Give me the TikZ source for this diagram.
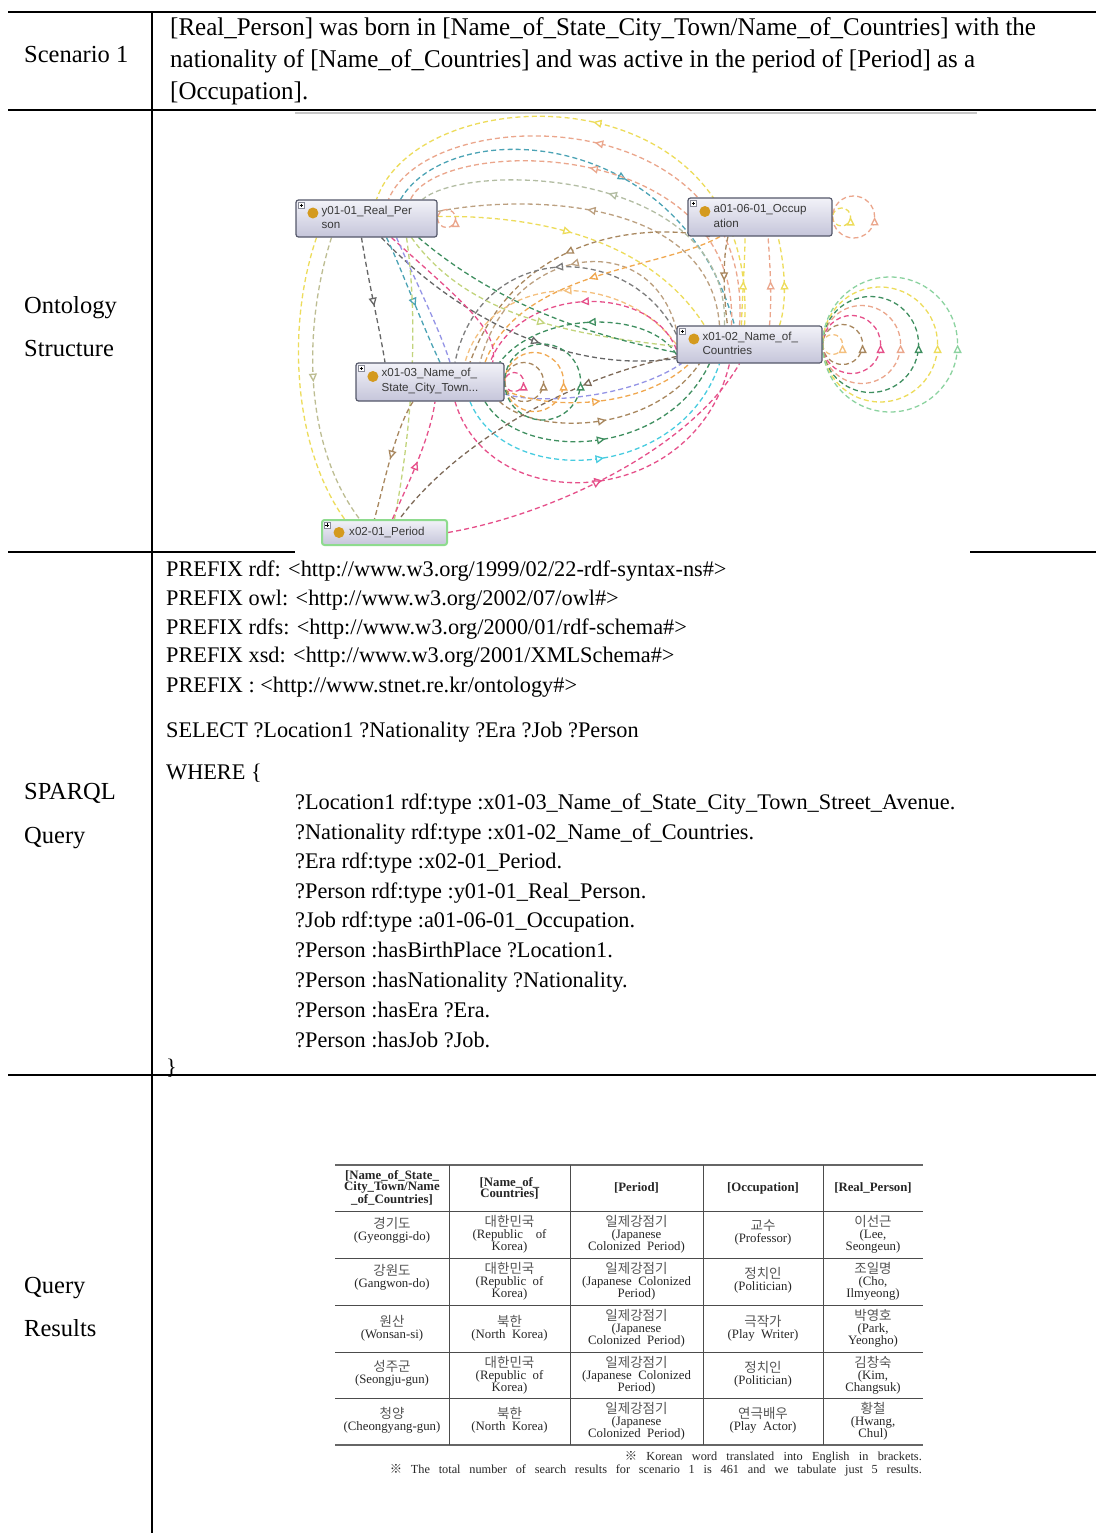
\documentclass[tikz,border=0pt]{standalone}
\usepackage{fontspec}
\setmainfont{Liberation Serif}
\newfontfamily\condserif{Liberation Serif}[FakeStretch=0.98]
\newfontfamily\graphsans{Liberation Sans}
\newfontfamily\kr{Noto Sans CJK KR}
\usetikzlibrary{arrows.meta,decorations.markings,calc}

\definecolor{cYel}{HTML}{EDDC5A}
\definecolor{cSal}{HTML}{EBA68C}
\definecolor{cTeal}{HTML}{4BA3B5}
\definecolor{cGG}{HTML}{B3BDA3}
\definecolor{cBrn}{HTML}{A8875E}
\definecolor{cBrnL}{HTML}{BCA080}
\definecolor{cBrnD}{HTML}{7E6A58}
\definecolor{cGray}{HTML}{7C7C7C}
\definecolor{cOrg}{HTML}{F0A850}
\definecolor{cOrgL}{HTML}{F4C07E}
\definecolor{cPink}{HTML}{E6508A}
\definecolor{cGrn}{HTML}{3F8F60}
\definecolor{cGrnL}{HTML}{8CD3A0}
\definecolor{cCyan}{HTML}{48CCE0}
\definecolor{cLav}{HTML}{9494E6}
\definecolor{cOlive}{HTML}{BDBD92}
\definecolor{cYG}{HTML}{C2D47C}
\definecolor{cDark}{HTML}{666666}
\definecolor{boxtop}{HTML}{F2F2F8}
\definecolor{boxbot}{HTML}{C5C5DA}
\definecolor{boxedge}{HTML}{55586A}
\definecolor{dotc}{HTML}{D49A1E}
\definecolor{pegreen}{HTML}{8EDB8E}
\definecolor{kgray}{HTML}{555555}

\newcommand{\kword}[1]{{\kr\fontsize{13.5}{12.5}\selectfont\color{kgray}#1}}

\pgfdeclarelayer{paper}
\pgfdeclarelayer{links}
\pgfsetlayers{paper,links,main}

\tikzset{
  rowrule/.style={line width=2.2pt, black},
  colrule/.style={line width=1.4pt, black},
  lnk/.style={draw=#1, line width=1.3pt, dash pattern=on 5pt off 3.2pt},
  tri/.style={postaction={decorate,decoration={markings,
      mark=at position #1 with {\arrow{Triangle[length=8.5pt,width=8pt,fill=white]}}}}},
  tri/.default=0.5,
  obox/.style={draw=boxedge, line width=1.2pt, rounded corners=2.5pt,
      top color=boxtop, bottom color=boxbot, inner sep=0pt},
  olbl/.style={anchor=west, inner sep=0pt, align=left, text=black!78,
      font=\graphsans\fontsize{11.6}{14.5}\selectfont},
  sidelbl/.style={anchor=base west, inner sep=0pt, font=\fontsize{24.5}{29}\selectfont},
  scen/.style={anchor=base west, inner sep=0pt, font=\condserif\fontsize{25.5}{32}\selectfont},
  qline/.style={anchor=base west, inner sep=0pt, font=\fontsize{22.3}{26}\selectfont},
  cell/.style={align=center, inner sep=0pt, text=black!85, font=\fontsize{12.8}{12}\selectfont},
  hcell/.style={cell, font=\bfseries\fontsize{12.8}{11.2}\selectfont},
  tline/.style={line width=0.9pt, black!70},
  note/.style={anchor=base east, inner sep=0pt, text=black!85, font=\fontsize{12.3}{14}\selectfont},
}

\begin{document}
\begin{tikzpicture}[x=1pt,y=-1pt]
\useasboundingbox (0,0) rectangle (1096,1533);
\begin{pgfonlayer}{paper}
  \fill[white] (0,0) rectangle (1096,1533);
\end{pgfonlayer}

% ---------- frame of the table ----------
\draw[rowrule] (8,12) -- (1096,12);
\draw[rowrule, line width=2.6pt] (8,110) -- (1096,110);
\draw[rowrule] (8,552) -- (295,552);
\draw[rowrule] (970,552) -- (1096,552);
\draw[rowrule, line width=2.6pt] (8,1075) -- (1096,1075);
\draw[colrule] (152,12) -- (152,1533);
\draw[black!22, line width=1.5pt] (295,113) -- (977,113);

% ---------- row 1: scenario ----------
\node[sidelbl] (sc) at (24,63) {Scenario 1};
\node[scen] (sc1) at (170,36) {[Real\_Person] was born in [Name\_of\_State\_City\_Town/Name\_of\_Countries] with the};
\node[scen] (sc2) at (170,68) {nationality of [Name\_of\_Countries] and was active in the period of [Period] as a};
\node[scen] (sc3) at (170,100) {[Occupation].};

% ---------- row 2: ontology graph ----------
\node[sidelbl] (os1) at (24,313) {Ontology};
\node[sidelbl] (os2) at (24,356) {Structure};

\node[obox, minimum width=141pt, minimum height=37pt] (rp) at (366.5,218.5) {};
\node[obox, minimum width=144pt, minimum height=38pt] (oc) at (760,217) {};
\node[obox, minimum width=145pt, minimum height=37pt] (co) at (749.5,344.5) {};
\node[obox, minimum width=148pt, minimum height=38pt] (st) at (430,382) {};
\node[obox, draw=pegreen, line width=2pt, minimum width=125pt, minimum height=25pt] (pe) at (384.5,532.5) {};

\begin{pgfonlayer}{links}
% arches over the top between countries, occupation and person
\draw[lnk=cYel, tri=0.53] ($(co.north)+(-5,0)$) .. controls (760,70) and (420,75) .. ($(rp.north)+(10,0)$);
\draw[lnk=cSal, tri=0.53] ($(co.north)+(-10,0)$) .. controls (755,100) and (430,100) .. ($(rp.north)+(22,0)$);
\draw[lnk=cTeal, tri=0.57] ($(rp.north)+(34,0)$) .. controls (450,115) and (680,125) .. ($(co.north)+(-15,0)$);
\draw[lnk=cSal, tri=0.55] ($(co.north)+(-18,0)$) .. controls (740,135) and (440,135) .. ($(rp.north)+(44,0)$);
\draw[lnk=cGG, tri=0.5] ($(co.north)+(-25,0)$) .. controls (730,170) and (470,160) .. ($(rp.north)+(56,0)$);
\draw[lnk=cBrnL, tri=0.56] ($(co.north)+(-30,0)$) .. controls (710,195) and (520,195) .. ($(rp.east)+(0,-7)$);
\draw[lnk=cYel, tri=0.45] ($(rp.east)+(0,-2)$) .. controls (540,215) and (650,240) .. ($(co.north)+(-45,0)$);

% upper bundle towards the state/city box
\draw[lnk=cBrn, tri] ($(oc.south)+(-50,0)$) .. controls (660,225) and (520,225) .. ($(st.north)+(40,0)$);
\draw[lnk=cBrnL, tri] ($(co.west)+(0,-15)$) .. controls (650,225) and (510,245) .. ($(st.north)+(50,0)$);
\draw[lnk=cGray, tri] ($(co.west)+(0,-10)$) .. controls (630,240) and (480,240) .. ($(st.north)+(25,0)$);
\draw[lnk=cOrg, tri] ($(oc.south)+(-40,0)$) .. controls (660,270) and (520,270) .. ($(st.north)+(55,0)$);
\draw[lnk=cOrgL, tri] (co.west) .. controls (620,268) and (490,272) .. ($(st.north)+(35,0)$);
\draw[lnk=cPink, tri] ($(co.west)+(0,5)$) .. controls (650,282) and (520,285) .. ($(st.north)+(60,0)$);
\draw[lnk=cGrn, tri] ($(co.west)+(0,10)$) .. controls (650,310) and (540,310) .. ($(st.north east)+(-5,0)$);

% lower bundle from the state/city box to countries
\draw[lnk=cLav] ($(st.east)+(0,12)$) .. controls (540,405) and (630,398) .. ($(co.south)+(-68,0)$);
\draw[lnk=cOrg, tri] ($(st.east)+(0,8)$) .. controls (545,410) and (640,410) .. ($(co.south)+(-60,0)$);
\draw[lnk=cBrn, tri] ($(st.south east)+(-5,0)$) .. controls (535,435) and (650,435) .. ($(co.south)+(-50,0)$);
\draw[lnk=cGrn, tri] ($(st.south)+(55,0)$) .. controls (520,462) and (665,458) .. ($(co.south)+(-40,0)$);
\draw[lnk=cCyan, tri] ($(st.south)+(40,0)$) .. controls (505,488) and (680,482) .. ($(co.south)+(-30,0)$);
\draw[lnk=cPink, tri] ($(st.south)+(25,0)$) .. controls (490,520) and (695,510) .. ($(co.south)+(-20,0)$);
\draw[lnk=cPink, tri=0.47] (pe.east) .. controls (550,515) and (690,450) .. ($(co.south)+(-10,0)$);

% person towards countries / state
\draw[lnk=cDark, tri=0.58] ($(rp.south)+(15,0)$) .. controls (450,310) and (560,375) .. ($(co.west)+(0,14)$);
\draw[lnk=cYG, tri=0.55] ($(rp.south)+(45,0)$) .. controls (470,320) and (580,335) .. ($(co.west)+(0,2)$);
\draw[lnk=cPink] ($(rp.south)+(25,0)$) .. controls (460,300) and (500,330) .. ($(st.north east)+(-12,0)$);
\draw[lnk=cGrn] ($(rp.south)+(52,0)$) .. controls (480,290) and (560,330) .. ($(co.west)+(0,8)$);

% left side down to the period box
\draw[lnk=cYel] ($(rp.south)+(-50,0)$) .. controls (285,330) and (295,450) .. ($(pe.north)+(-40,0)$);
\draw[lnk=cOlive, tri] ($(rp.south)+(-35,0)$) .. controls (305,320) and (300,440) .. ($(pe.north)+(-25,0)$);
\draw[lnk=cDark, tri=0.55] ($(rp.south)+(-5,0)$) .. controls (368,280) and (380,330) .. ($(st.north)+(-45,0)$);
\draw[lnk=cTeal, tri=0.55] ($(rp.south)+(20,0)$) .. controls (400,265) and (420,320) .. ($(st.north)+(10,0)$);
\draw[lnk=cLav] ($(rp.south)+(30,0)$) .. controls (415,280) and (440,330) .. ($(st.north)+(20,0)$);
\draw[lnk=cYG] ($(rp.south)+(40,0)$) .. controls (420,330) and (410,440) .. ($(pe.north)+(10,0)$);

% period links
\draw[lnk=cBrn, tri] ($(st.south)+(-17,0)$) .. controls (395,430) and (385,480) .. ($(pe.north)+(-10,0)$);
\draw[lnk=cPink, tri] ($(pe.north)+(8,0)$) .. controls (405,490) and (430,440) .. ($(st.south)+(5,0)$);
\draw[lnk=cBrnD, tri=0.3] ($(co.west)+(0,12)$) .. controls (560,380) and (450,450) .. ($(pe.north)+(15,0)$);

% occupation <-> countries
\draw[lnk=cBrn, tri] ($(oc.south)+(-32,0)$) .. controls (722,260) and (724,300) .. ($(co.north)+(-22,0)$);
\draw[lnk=cYel, tri] ($(co.north)+(-8,0)$) .. controls (742,300) and (745,262) .. ($(oc.south)+(-15,0)$);
\draw[lnk=cSal, tri] ($(co.north)+(20,0)$) .. controls (772,300) and (770,262) .. ($(oc.south)+(8,0)$);
\draw[lnk=cYel, tri] ($(co.north)+(30,0)$) .. controls (788,300) and (784,262) .. ($(oc.south)+(18,0)$);

% self loops
\foreach \r/\c in {10/cOrgL, 20/cBrn, 29/cPink, 39/cSal, 48/cGrn, 57.5/cYel, 67.5/cGrnL}
  \draw[lnk=\c, tri=0.5] (co.east) arc[start angle=180, end angle=-180, radius=\r];
\foreach \r/\c in {9.5/cPink, 19.5/cBrn, 29.5/cOrg, 38/cGrn}
  \draw[lnk=\c, tri=0.5] (st.east) arc[start angle=180, end angle=-180, radius=\r];
\foreach \r/\c in {9/cYel, 21/cSal}
  \draw[lnk=\c, tri=0.5] (oc.east) arc[start angle=180, end angle=-180, radius=\r];
\draw[lnk=cSal, tri=0.5] (rp.east) arc[start angle=180, end angle=-180, radius=9];
\end{pgfonlayer}

% box decorations: expander square and class dot
\foreach \b in {rp,oc,co,st,pe}{
  \draw[boxedge!70, line width=0.4pt, fill=white] ($(\b.north west)+(3,3)$) rectangle ++(6,6);
  \draw[black, line width=0.6pt] ($(\b.north west)+(4.3,6)$) -- ++(3.4,0)
                                 ($(\b.north west)+(6,4.3)$) -- ++(0,3.4);
}
\fill[dotc] ($(rp.west)+(17.5,-5.5)$) circle (5.5);
\fill[dotc] ($(oc.west)+(17.5,-5.5)$) circle (5.5);
\fill[dotc] ($(co.west)+(17.5,-5.5)$) circle (5.5);
\fill[dotc] ($(st.west)+(17.5,-5.5)$) circle (5.5);
\fill[dotc] ($(pe.west)+(18,0)$) circle (5.5);

\node[olbl] (rpT) at ($(rp.west)+(26,-1)$) {y01-01\_Real\_Per\\son};
\node[olbl] (ocT) at ($(oc.west)+(26,-1)$) {a01-06-01\_Occup\\ation};
\node[olbl] (coT) at ($(co.west)+(26,-1)$) {x01-02\_Name\_of\_\\Countries};
\node[olbl] (stT) at ($(st.west)+(26,-1)$) {x01-03\_Name\_of\_\\State\_City\_Town...};
\node[olbl] (peT) at ($(pe.west)+(28,0)$) {x02-01\_Period};

% ---------- row 3: SPARQL query ----------
\node[sidelbl] (sq1) at (24,799) {SPARQL};
\node[sidelbl] (sq2) at (24,843) {Query};

\node[qline] (q1) at (166,576) {PREFIX rdf: <http://www.w3.org/1999/02/22-rdf-syntax-ns\#>};
\node[qline] (q2) at (166,605) {PREFIX owl: <http://www.w3.org/2002/07/owl\#>};
\node[qline] (q3) at (166,634) {PREFIX rdfs: <http://www.w3.org/2000/01/rdf-schema\#>};
\node[qline] (q4) at (166,662) {PREFIX xsd: <http://www.w3.org/2001/XMLSchema\#>};
\node[qline] (q5) at (166,692) {PREFIX : <http://www.stnet.re.kr/ontology\#>};
\node[qline] (q6) at (166,737) {SELECT ?Location1 ?Nationality ?Era ?Job ?Person};
\node[qline] (q7) at (166,779) {WHERE \{};
\node[qline] (q8) at (295,809) {?Location1 rdf:type :x01-03\_Name\_of\_State\_City\_Town\_Street\_Avenue.};
\node[qline] (q9) at (295,839) {?Nationality rdf:type :x01-02\_Name\_of\_Countries.};
\node[qline] (q10) at (295,868) {?Era rdf:type :x02-01\_Period.};
\node[qline] (q11) at (295,898) {?Person rdf:type :y01-01\_Real\_Person.};
\node[qline] (q12) at (295,927) {?Job rdf:type :a01-06-01\_Occupation.};
\node[qline] (q13) at (295,957) {?Person :hasBirthPlace ?Location1.};
\node[qline] (q14) at (295,987) {?Person :hasNationality ?Nationality.};
\node[qline] (q15) at (295,1017) {?Person :hasEra ?Era.};
\node[qline] (q16) at (295,1047) {?Person :hasJob ?Job.};
\node[qline] (q17) at (166,1074) {\}};

% ---------- row 4: query results ----------
\node[sidelbl] (qr1) at (24,1293) {Query};
\node[sidelbl] (qr2) at (24,1336) {Results};

\draw[tline, line width=2.2pt, black!60] (335,1165) -- (923,1165);
\foreach \y in {1211,1258,1305,1352,1398}
  \draw[tline] (335,\y) -- (923,\y);
\draw[tline, line width=2.6pt, black!60] (335,1445) -- (923,1445);
\foreach \x in {449,570,703,823}
  \draw[tline] (\x,1165) -- (\x,1445);

\node[hcell] (h1) at (392,1188) {[Name\_of\_State\_\\City\_Town/Name\\\_of\_Countries]};
\node[hcell] (h2) at (509.5,1188) {[Name\_of\_\\Countries]};
\node[hcell] (h3) at (636.5,1188) {[Period]};
\node[hcell] (h4) at (763,1188) {[Occupation]};
\node[hcell] (h5) at (873,1188) {[Real\_Person]};

\node[cell] (c11) at (392,1230) {\kword{경기도}\\(Gyeonggi-do)};
\node[cell] (c12) at (509.5,1234.5) {\kword{대한민국}\\(Republic\quad of\\Korea)};
\node[cell] (c13) at (636.5,1234.5) {\kword{일제강점기}\\(Japanese\\Colonized\ \ Period)};
\node[cell] (c14) at (763,1232) {\kword{교수}\\(Professor)};
\node[cell] (c15) at (873,1234.5) {\kword{이선근}\\(Lee,\\Seongeun)};

\node[cell] (c21) at (392,1277) {\kword{강원도}\\(Gangwon-do)};
\node[cell] (c22) at (509.5,1281.5) {\kword{대한민국}\\(Republic\ \ of\\Korea)};
\node[cell] (c23) at (636.5,1281.5) {\kword{일제강점기}\\(Japanese\ \ Colonized\\Period)};
\node[cell] (c24) at (763,1280) {\kword{정치인}\\(Politician)};
\node[cell] (c25) at (873,1281.5) {\kword{조일명}\\(Cho,\\Ilmyeong)};

\node[cell] (c31) at (392,1328) {\kword{원산}\\(Wonsan-si)};
\node[cell] (c32) at (509.5,1328) {\kword{북한}\\(North\ \ Korea)};
\node[cell] (c33) at (636.5,1328.5) {\kword{일제강점기}\\(Japanese\\Colonized\ \ Period)};
\node[cell] (c34) at (763,1328) {\kword{극작가}\\(Play\ \ Writer)};
\node[cell] (c35) at (873,1328.5) {\kword{박영호}\\(Park,\\Yeongho)};

\node[cell] (c41) at (392,1373) {\kword{성주군}\\(Seongju-gun)};
\node[cell] (c42) at (509.5,1375) {\kword{대한민국}\\(Republic\ \ of\\Korea)};
\node[cell] (c43) at (636.5,1375) {\kword{일제강점기}\\(Japanese\ \ Colonized\\Period)};
\node[cell] (c44) at (763,1374) {\kword{정치인}\\(Politician)};
\node[cell] (c45) at (873,1375) {\kword{김창숙}\\(Kim,\\Changsuk)};

\node[cell] (c51) at (392,1420) {\kword{청양}\\(Cheongyang-gun)};
\node[cell] (c52) at (509.5,1420) {\kword{북한}\\(North\ \ Korea)};
\node[cell] (c53) at (636.5,1421.5) {\kword{일제강점기}\\(Japanese\\Colonized\ \ Period)};
\node[cell] (c54) at (763,1420) {\kword{연극배우}\\(Play\ \ Actor)};
\node[cell] (c55) at (873,1421.5) {\kword{황철}\\(Hwang,\\Chul)};

\node[note] (n1) at (922,1460) {\makebox[297pt][s]{{\kr ※} Korean word translated into English in brackets.}};
\node[note] (n2) at (922,1473) {\makebox[532pt][s]{{\kr ※} The total number of search results for scenario 1 is 461 and we tabulate just 5 results.}};
\end{tikzpicture}
\end{document}
